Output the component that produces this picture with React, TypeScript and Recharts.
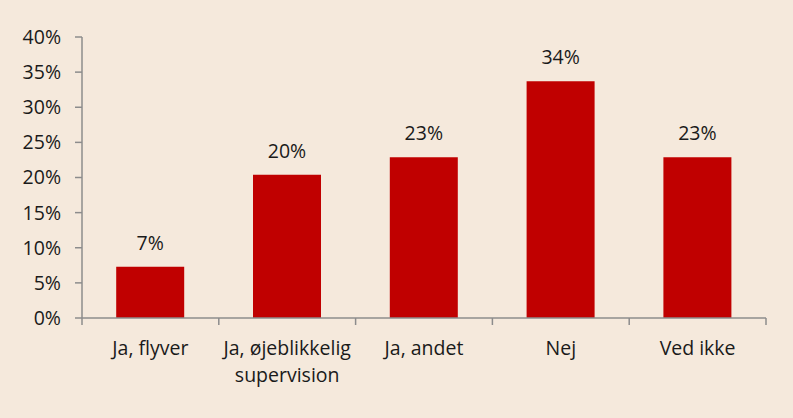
import { BarChart, Bar, XAxis, YAxis, LabelList, Text } from 'recharts';

const categories = ['Ja, flyver', 'Ja, øjeblikkelig supervision', 'Ja, andet', 'Nej', 'Ved ikke'];
const shares = [7.3, 20.4, 22.9, 33.7, 22.9];
const yTicks = [0, 5, 10, 15, 20, 25, 30, 35, 40];
const boundaryTicks = [0, 1, 2, 3, 4, 5];

const data = categories.map((name, i) => ({ name, share: shares[i], pos: i + 0.5 }));

const FONT = '"Open Sans", "Noto Sans", sans-serif';
const AXIS = '#8c8c8c';
const TEXT = '#1a1a1a';
const FS = 19.5;

function CategoryTick({ x, y, payload }: any) {
    return (
        <Text
            x={x}
            y={y}
            width={140}
            textAnchor="middle"
            verticalAnchor="start"
            lineHeight={27}
            fill={TEXT}
            fontSize={FS}
            fontFamily={FONT}
        >
            {payload.value}
        </Text>
    );
}

export default function App() {
    return (
        <div style={{ width: 793, height: 418, background: '#f5e9dc' }}>
            <style>{'body{margin:0}'}</style>
            <BarChart
                width={793}
                height={418}
                data={data}
                margin={{ top: 37, right: 27, left: 0, bottom: 0 }}
                barCategoryGap="25%"
            >
                <XAxis
                    xAxisId="b"
                    dataKey="name"
                    height={99}
                    axisLine={false}
                    tickLine={false}
                    tickMargin={16}
                    interval={0}
                    tick={<CategoryTick />}
                />
                {/* tick marks between categories */}
                <XAxis
                    xAxisId="a"
                    type="number"
                    dataKey="pos"
                    domain={[0, 5]}
                    ticks={boundaryTicks}
                    height={1}
                    stroke={AXIS}
                    strokeWidth={1.5}
                    tickSize={7}
                    tickFormatter={() => ''}
                />
                <YAxis
                    width={82}
                    domain={[0, 40]}
                    ticks={yTicks}
                    tickFormatter={(v) => `${v}%`}
                    stroke={AXIS}
                    strokeWidth={1.5}
                    tickSize={7}
                    tickMargin={14}
                    tick={{ fill: TEXT, fontSize: FS, fontFamily: FONT }}
                />
                <Bar xAxisId="b" dataKey="share" fill="#c00000" isAnimationActive={false}>
                    <LabelList
                        dataKey="share"
                        position="top"
                        offset={17}
                        formatter={(v: any) => `${Math.round(v)}%`}
                        fill={TEXT}
                        fontSize={FS}
                        fontFamily={FONT}
                    />
                </Bar>
            </BarChart>
        </div>
    );
}
